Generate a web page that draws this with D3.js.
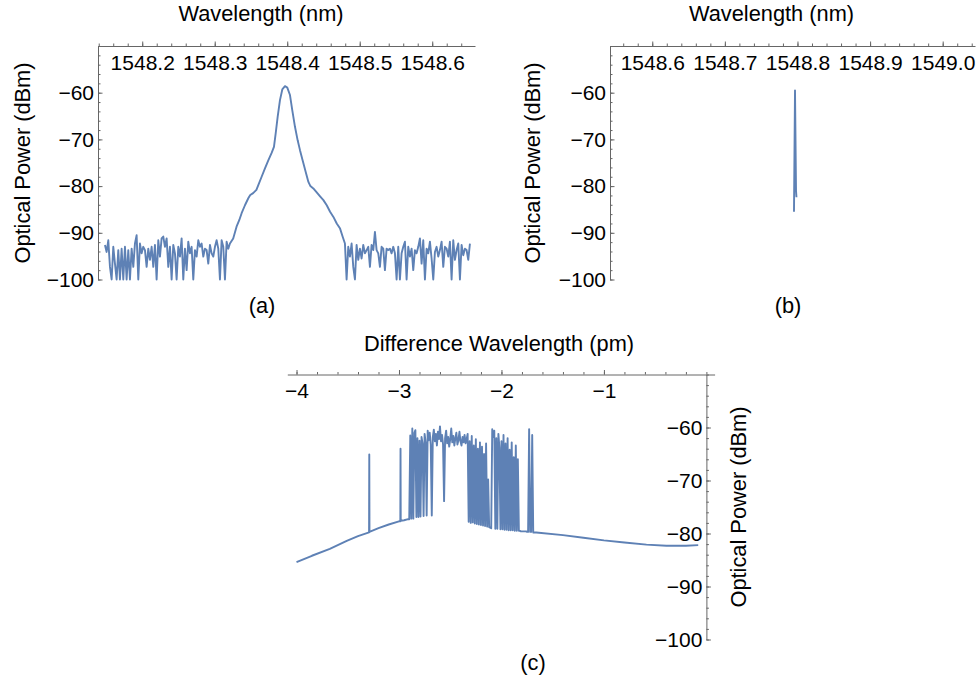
<!DOCTYPE html>
<html>
<head>
<meta charset="utf-8">
<script src="https://cdn.jsdelivr.net/npm/d3@7"></script>
<style>
  body { margin: 0; background: #fff; }
  svg text { font-family: "Liberation Sans", Arial, sans-serif; }
</style>
</head>
<body>
<svg id="chart" width="980" height="684"></svg>
<script>

// ---------- data ----------

// (a) noise floor left of the peak, evenly sampled (dBm)
var aNoiseLeftRange = [1548.1486, 1548.3210];
var aNoiseLeft = [-92.6,-94.1,-91.6,-97.3,-100,-93.0,-96.6,-100,-93.7,-100,-93.4,-100,-93.0,-100,-93.7,-100,
    -93.4,-97.3,-92.3,-90.5,-100,-92.3,-94.4,-93.0,-93.7,-97.3,-93.4,-95.8,-93.0,-97.3,-92.6,-100,-91.6,-95.1,
    -91.2,-90.8,-93.0,-91.2,-97.3,-93.0,-100,-92.6,-94.4,-100,-93.0,-95.1,-91.2,-100,-93.4,-98.0,-91.9,-94.4,
    -93.0,-100,-93.7,-95.1,-91.6,-93.0,-92.3,-95.1,-93.4,-93.7,-96.6,-92.6,-94.4,-95.1,-93.0,-91.6,-93.4,-100,
    -91.6,-93.0,-100,-91.9,-93.4,-92.3];

// (a) the peak itself [wavelength nm, power dBm]
var aPeak = [
    [1548.3255,-91.2],[1548.3301,-88.7],[1548.3338,-87.3],[1548.3371,-85.8],[1548.3417,-84.1],
    [1548.3463,-82.6],[1548.3490,-81.9],[1548.3530,-81.5],[1548.3575,-80.8],[1548.3601,-79.8],
    [1548.3647,-78.0],[1548.3693,-76.2],[1548.3739,-74.5],[1548.3785,-72.9],[1548.3817,-71.6],
    [1548.3840,-68.8],[1548.3868,-65.2],[1548.3900,-61.6],[1548.3932,-59.3],[1548.3969,-58.6],
    [1548.4001,-58.9],[1548.4038,-60.5],[1548.4070,-63.8],[1548.4107,-67.3],[1548.4144,-70.2],
    [1548.4176,-72.3],[1548.4213,-74.5],[1548.4255,-77.0],[1548.4292,-79.1],[1548.4320,-80.0],
    [1548.4360,-80.5],[1548.4398,-81.2],[1548.4453,-82.2],[1548.4499,-83.0],[1548.4545,-84.1],
    [1548.4591,-85.5],[1548.4637,-86.6],[1548.4683,-88.0],[1548.4729,-89.1],[1548.4766,-90.9]
];

// (a) noise floor right of the peak, evenly sampled (dBm)
var aNoiseRightRange = [1548.4796, 1548.6520];
var aNoiseRight = [-92.3,-100,-93.0,-95.1,-92.3,-97.3,-100,-92.6,-95.8,-93.4,-95.5,-92.6,-94.4,-93.7,-93.0,
    -97.3,-92.6,-93.7,-89.8,-93.7,-94.4,-97.3,-93.0,-93.4,-98.0,-93.4,-93.7,-93.4,-94.4,-93.0,-94.4,-100,
    -93.0,-100,-94.4,-93.0,-91.9,-100,-93.0,-95.1,-93.4,-98.0,-93.7,-94.4,-93.0,-91.2,-96.6,-91.6,-100,
    -93.4,-94.4,-91.9,-95.5,-100,-94.1,-93.0,-95.1,-93.7,-91.9,-97.3,-93.0,-93.4,-95.1,-91.9,-100,-91.6,
    -95.8,-93.7,-92.3,-100,-92.6,-94.8,-93.4,-93.7,-95.8,-92.3];

// (b) the narrow line [wavelength nm, power dBm]
var bLine = [[1548.7952,-85.5],[1548.7966,-59.5],[1548.7980,-81.0],[1548.7986,-82.4]];

// (c) slope left of the comb [difference pm, power dBm]
var cLeft = [
    [-4.00,-85.4],[-3.85,-84.2],[-3.675,-82.9],[-3.51,-81.4],[-3.40,-80.5],[-3.292,-79.8],
    [-3.290,-65.1],[-3.288,-79.7],[-3.20,-79.0],[-3.10,-78.3],[-3.00,-77.7],[-2.987,-77.7],
    [-2.985,-64.0],[-2.983,-77.6],[-2.95,-77.5],[-2.91,-77.3]
];

// (c) comb region, sampled every 0.01 pm from -2.90 pm
var cMidStart = -2.90, cMidStep = 0.01;
var cMid = [
    -77.3,-61.5,-77.2,-60.2,-77.2,-61.0,-60.5,-76.9,-62.0,-76.9,
    -62.5,-76.8,-61.8,-63.0,-76.7,-61.2,-62.8,-76.6,-60.6,-62.4,
    -61.0,-63.2,-76.6,-61.8,-60.4,-62.6,-61.2,-63.4,-60.8,-62.2,
    -59.8,-62.6,-61.4,-63.2,-73.9,-62.0,-60.6,-63.0,-61.8,-63.6,
    -62.2,-60.2,-62.8,-61.6,-63.4,-62.0,-61.0,-63.2,-62.4,-60.8,
    -62.6,-63.4,-61.8,-62.8,-61.4,-63.0,-62.2,-61.2,-77.8,-62.6,
    -78.0,-61.6,-77.9,-63.4,-78.1,-62.2,-78.2,-64.0,-78.3,-62.8,
    -78.4,-63.6,-78.5,-65.0,-78.6,-63.0,-78.7,-69.8,-78.8,-78.9,
    -79.0,-60.3,-61.8,-60.6,-79.1,-62.0,-79.1,-61.2,-63.8,-79.2,
    -62.6,-79.2,-61.4,-79.3,-63.0,-79.3,-62.0,-79.4,-64.2,-79.4,
    -62.8,-79.4,-65.6,-79.5,-63.4,-79.5,-66.0,-79.5,-79.5,-79.6,
    -79.6,-79.6,-79.6,-79.6,-79.6,-79.7,-79.7,-60.3,-79.7,-79.7,
    -61.4,-79.8,-79.8
];

// (c) slope right of the comb
var cRight = [
    [-1.66,-79.8],[-1.40,-80.3],[-1.20,-80.8],[-1.00,-81.3],[-0.80,-81.7],
    [-0.585,-82.1],[-0.39,-82.3],[-0.20,-82.3],[-0.08,-82.2]
];

// tick labels
var aMajorTicks = [1548.2, 1548.3, 1548.4, 1548.5, 1548.6];
var bMajorTicks = [1548.6, 1548.7, 1548.8, 1548.9, 1549.0];
var cMajorTicks = [-4, -3, -2, -1];
var powerTicks = [-100, -90, -80, -70, -60];

// ---------- build series ----------

function evenSeries(range, values) {
    var step = (range[1] - range[0]) / (values.length - 1);
    return values.map(function(v, i) { return [range[0] + i * step, v]; });
}

var aSeries = evenSeries(aNoiseLeftRange, aNoiseLeft)
    .concat(aPeak)
    .concat(evenSeries(aNoiseRightRange, aNoiseRight));

var cSeries = cLeft
    .concat(cMid.map(function(v, i) { return [cMidStart + i * cMidStep, v]; }))
    .concat(cRight);

// ---------- drawing ----------

var svg = d3.select("#chart");
var lineColor = "#5e81b5";
var axisColor = "#666";
var tickFont = "21px";
var titleFont = "21.8px";

function styleAxis(sel) {
    sel.select(".domain").attr("stroke", axisColor);
    sel.selectAll(".tick line").attr("stroke", axisColor);
    sel.selectAll(".tick text").attr("fill", "#000").style("font-size", tickFont)
        .style("font-family", '"Liberation Sans", Arial, sans-serif');
    sel.attr("font-family", null).attr("font-size", null);
}

function drawPanel(p) {
    var g = svg.append("g");
    var x = d3.scaleLinear().domain(p.xDomain).range(p.xRange);
    var y = d3.scaleLinear().domain([-100, -50]).range(p.yRange);

    // x axis along the top, ticks pointing up, labels below
    g.append("g")
        .attr("transform", "translate(0," + y(-50) + ")")
        .call(d3.axisBottom(x).tickValues(p.xMinor).tickSizeInner(-2.5).tickSizeOuter(0).tickFormat(""))
        .call(styleAxis);
    g.append("g")
        .attr("transform", "translate(0," + y(-50) + ")")
        .call(d3.axisBottom(x).tickValues(p.xMajor).tickSizeInner(-4.5).tickSizeOuter(0)
            .tickPadding(9).tickFormat(p.xFormat))
        .call(styleAxis)
        .select(".domain").remove();

    // y axis, ticks pointing right, labels on the left
    var yMinor = d3.range(-100, -49, 2);
    g.append("g")
        .attr("transform", "translate(" + x(p.yAxisAt) + ",0)")
        .call(d3.axisLeft(y).tickValues(yMinor).tickSizeInner(-2.5).tickSizeOuter(0).tickFormat(""))
        .call(styleAxis);
    g.append("g")
        .attr("transform", "translate(" + x(p.yAxisAt) + ",0)")
        .call(d3.axisLeft(y).tickValues(powerTicks).tickSizeInner(-4.5).tickSizeOuter(0)
            .tickPadding(4).tickFormat(d3.format("d")))
        .call(styleAxis)
        .select(".domain").remove();

    // trace
    var line = d3.line()
        .x(function(d) { return x(d[0]); })
        .y(function(d) { return y(Math.max(-100, d[1])); });
    g.append("path")
        .datum(p.data)
        .attr("d", line)
        .attr("fill", "none")
        .attr("stroke", lineColor)
        .attr("stroke-width", 1.9)
        .attr("stroke-linejoin", "round");

    // titles
    g.append("text")
        .attr("x", p.title[0]).attr("y", p.title[1])
        .attr("text-anchor", "middle")
        .style("font-size", titleFont)
        .text(p.titleText);
    g.append("text")
        .attr("transform", "translate(" + p.yLabel[0] + "," + p.yLabel[1] + ") rotate(-90)")
        .attr("text-anchor", "middle")
        .attr("dy", "0.35em")
        .style("font-size", titleFont)
        .text("Optical Power (dBm)");
    g.append("text")
        .attr("x", p.tag[0]).attr("y", p.tag[1])
        .attr("text-anchor", "middle")
        .style("font-size", titleFont)
        .text(p.tagText);
}

drawPanel({
    data: aSeries,
    xDomain: [1548.139, 1548.659], xRange: [98, 475], yRange: [279.5, 46],
    yAxisAt: 1548.139,
    xMajor: aMajorTicks, xMinor: d3.range(1548.14, 1548.66, 0.02),
    xFormat: d3.format(".1f"),
    title: [261, 21], titleText: "Wavelength (nm)",
    yLabel: [22, 163], tag: [262, 313], tagText: "(a)"
});

drawPanel({
    data: bLine,
    xDomain: [1548.5418, 1549.0445], xRange: [610, 975], yRange: [279.5, 46],
    yAxisAt: 1548.5418,
    xMajor: bMajorTicks, xMinor: d3.range(1548.56, 1549.045, 0.02),
    xFormat: d3.format(".1f"),
    title: [771.5, 21], titleText: "Wavelength (nm)",
    yLabel: [532, 163], tag: [788, 313], tagText: "(b)"
});

drawPanel({
    data: cSeries,
    xDomain: [-4.09, 0.08], xRange: [287.3, 714.6], yRange: [639.5, 374.5],
    yAxisAt: 0,
    xMajor: cMajorTicks, xMinor: d3.range(-4, 0.01, 0.2),
    xFormat: d3.format("d"),
    title: [499, 351], titleText: "Difference Wavelength (pm)",
    yLabel: [738, 507], tag: [533, 670], tagText: "(c)"
});

</script>
</body>
</html>
